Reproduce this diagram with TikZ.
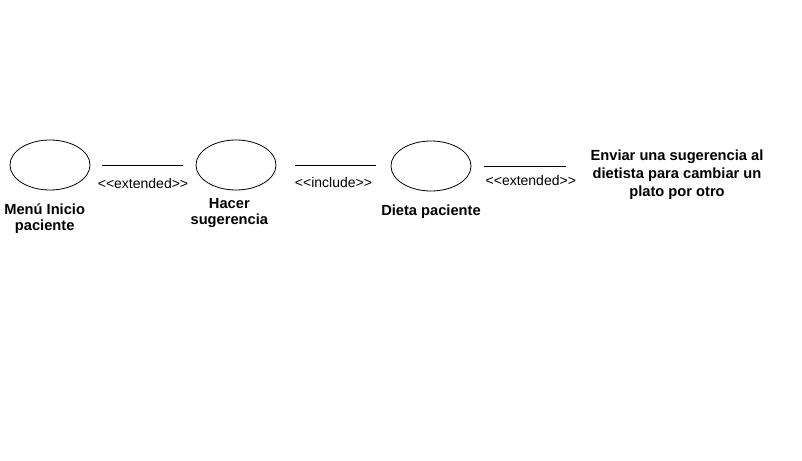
\documentclass[tikz,border=0pt]{standalone}
\usepackage{fontspec}
\setmainfont{Liberation Sans}
\usetikzlibrary{positioning,shapes.geometric}

\begin{document}
\begin{tikzpicture}[x=0.75pt, y=-0.75pt, line width=0.6pt,
  usecase/.style={draw, ellipse, minimum width=60pt, minimum height=37.5pt, inner sep=0pt},
  caso/.style={inner sep=0pt, align=center, font=\fontsize{11}{11.5}\selectfont\bfseries},
  rel/.style={midway, below=9pt, inner sep=0pt, font=\fontsize{10.5}{11}\selectfont}]

\useasboundingbox (0,0) rectangle (802,460);

% casos de uso
\node[usecase] (menu) at (50,165) {};
\node[usecase] (hacer) at (236,165) {};
\node[usecase] (dieta) at (431,166) {};

\node[caso, below=10pt of menu, xshift=-4pt] (lmenu) {Menú Inicio\\paciente};
\node[caso, below=6pt of hacer, xshift=-5pt] (lhacer) {Hacer\\sugerencia};
\node[caso, below=10pt of dieta] (ldieta) {Dieta paciente};
\node[caso, font=\fontsize{11}{13.5}\selectfont\bfseries] (envio) at (677,175)
   {Enviar una sugerencia al\\dietista para cambiar un\\plato por otro};

% relaciones
\draw[shorten <=9pt, shorten >=9.75pt] (menu.east) -- (hacer.west) node[rel, below=10pt] {<{}<extended>{}>};
\draw[shorten <=14.25pt, shorten >=11.25pt] (hacer.east) -- (dieta.west |- hacer.east) node[rel] {<{}<include>{}>};
\draw[shorten <=9.75pt, shorten >=18pt] (dieta.east) -- (envio.west |- dieta.east) node[rel, below=7pt] {<{}<extended>{}>};

\end{tikzpicture}
\end{document}
